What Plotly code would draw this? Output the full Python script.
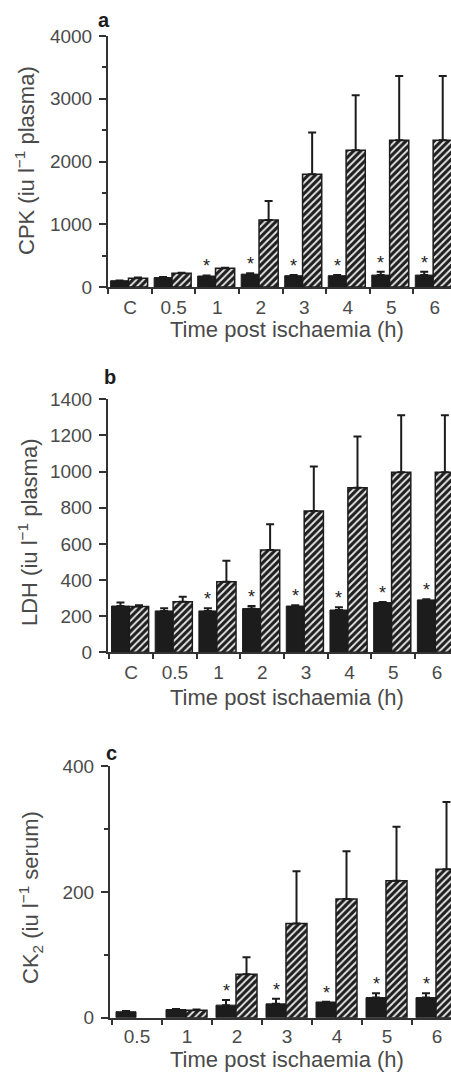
import plotly.graph_objects as go

# ---- data ----
cpk_cats = ["C", "0.5", "1", "2", "3", "4", "5", "6"]
cpk_ctrl = [100, 150, 175, 205, 180, 180, 190, 190]
cpk_ctrl_err = [5, 8, 10, 15, 10, 10, 55, 55]
cpk_isch = [140, 218, 297, 1066, 1798, 2180, 2340, 2340]
cpk_isch_err = [10, 10, 10, 303, 663, 876, 1023, 1023]
cpk_sig = [0, 0, 1, 1, 1, 1, 1, 1]

ldh_cats = ["C", "0.5", "1", "2", "3", "4", "5", "6"]
ldh_ctrl = [256, 229, 229, 242, 256, 234, 275, 290]
ldh_ctrl_err = [19, 15, 15, 14, 4, 15, 4, 3]
ldh_isch = [253, 280, 391, 566, 782, 911, 996, 996]
ldh_isch_err = [7, 28, 116, 142, 246, 283, 316, 316]
ldh_sig = [0, 0, 1, 1, 1, 1, 1, 1]

ck2_cats = ["0.5", "1", "2", "3", "4", "5", "6"]
ck2_ctrl = [9.5, 13, 20, 22, 25, 32, 32]
ck2_ctrl_err = [1, 1, 8, 8, 0.5, 7, 7]
ck2_isch = [None, 12, 69, 150, 189, 218, 236]
ck2_isch_err = [0, 1, 27, 83, 76, 86, 107]
ck2_sig = [0, 0, 1, 1, 1, 1, 1]

FONT = "Liberation Sans, Arial, Helvetica, sans-serif"
TXT = "#4a4a4a"
INK = "#1c1c1c"
W, H = 451, 1072

fig = go.Figure()

panels = [
    dict(cats=cpk_cats, ctrl=cpk_ctrl, cerr=cpk_ctrl_err, isch=cpk_isch, ierr=cpk_isch_err, sig=cpk_sig,
         xa="x", ya="y", xdom=[108 / W, 1], ydom=[1 - 287 / H, 1 - 36 / H], xr=[-0.51, 7.37],
         yr=[0, 4000], dtick=1000, minor=500, bo=(-0.45, 0.41), ho=(-0.04, 0.44),
         letter="a", lxy=(104, 20), ytitle="CPK (iu l<sup>−1</sup> plasma)", ytxy=(25, 161),
         xtxy=(287, 330), xstand=2),
    dict(cats=ldh_cats, ctrl=ldh_ctrl, cerr=ldh_ctrl_err, isch=ldh_isch, ierr=ldh_isch_err, sig=ldh_sig,
         xa="x2", ya="y2", xdom=[108 / W, 1], ydom=[1 - 652.3 / H, 1 - 399.3 / H], xr=[-0.53, 7.32],
         yr=[0, 1400], dtick=200, minor=None, bo=(-0.45, 0.41), ho=(-0.04, 0.44),
         letter="b", lxy=(110, 377), ytitle="LDH (iu l<sup>−1</sup> plasma)", ytxy=(28, 532),
         xtxy=(287, 697), xstand=2),
    dict(cats=ck2_cats, ctrl=ck2_ctrl, cerr=ck2_ctrl_err, isch=ck2_isch, ierr=ck2_isch_err, sig=ck2_sig,
         xa="x3", ya="y3", xdom=[110 / W, 1], ydom=[1 - 1017.7 / H, 1 - 766.3 / H], xr=[-0.54, 6.28],
         yr=[0, 400], dtick=200, minor=100, bo=(-0.42, 0.40), ho=(-0.02, 0.42),
         letter="c", lxy=(111, 753), ytitle="CK<sub>2</sub> (iu l<sup>−1</sup> serum)", ytxy=(30, 898),
         xtxy=(287, 1059), xstand=0),
]

annotations = []
layout_axes = {}
for k, p in enumerate(panels):
    n = len(p["cats"])
    xs = list(range(n))
    fig.add_trace(go.Bar(
        x=xs, y=p["ctrl"], xaxis=p["xa"], yaxis=p["ya"],
        offset=p["bo"][0], width=p["bo"][1],
        marker=dict(color=INK, line=dict(color=INK, width=1)),
        error_y=dict(type="data", symmetric=False, array=p["cerr"], arrayminus=[0] * n,
                     color=INK, thickness=2, width=4),
        showlegend=False,
    ))
    fig.add_trace(go.Bar(
        x=xs, y=p["isch"], xaxis=p["xa"], yaxis=p["ya"],
        offset=p["ho"][0], width=p["ho"][1],
        marker=dict(color="white", line=dict(color=INK, width=1.5),
                    pattern=dict(shape="/", fgcolor="#1e1e1e", bgcolor="#e6e6e6", size=5, solidity=0.62)),
        error_y=dict(type="data", symmetric=False, array=p["ierr"], arrayminus=[0] * n,
                     color=INK, thickness=2, width=4),
        showlegend=False,
    ))
    bc = p["bo"][0] + p["bo"][1] / 2
    for i in range(n):
        if p["sig"][i]:
            annotations.append(dict(
                x=i + bc, y=p["ctrl"][i] + p["cerr"][i], xref=p["xa"], yref=p["ya"],
                text="*", showarrow=False, yanchor="bottom", yshift=-3,
                font=dict(family=FONT, size=18, color=INK)))
    # panel letter
    annotations.append(dict(x=p["lxy"][0] / W, y=1 - p["lxy"][1] / H, xref="paper", yref="paper",
                            text="<b>%s</b>" % p["letter"], showarrow=False,
                            xanchor="center", yanchor="middle",
                            font=dict(family=FONT, size=20, color=INK)))
    annotations.append(dict(x=p["ytxy"][0] / W, y=1 - p["ytxy"][1] / H, xref="paper", yref="paper",
                            text=p["ytitle"], showarrow=False, textangle=-90,
                            xanchor="center", yanchor="middle",
                            font=dict(family=FONT, size=22, color=TXT)))
    annotations.append(dict(x=p["xtxy"][0] / W, y=1 - p["xtxy"][1] / H, xref="paper", yref="paper",
                            text="Time post ischaemia (h)", showarrow=False,
                            xanchor="center", yanchor="middle",
                            font=dict(family=FONT, size=22, color=TXT)))

    sfx = "" if k == 0 else str(k + 1)
    xaxis = dict(domain=p["xdom"], range=p["xr"], anchor=p["ya"], tickmode="array",
                 tickvals=xs, ticktext=p["cats"], ticks="", showline=True, linecolor="#333",
                 linewidth=2, showgrid=False, zeroline=False, automargin=False, fixedrange=True,
                 tickfont=dict(family=FONT, size=19, color=TXT), ticklabelstandoff=p["xstand"],
                 minor=dict(tickmode="array", tickvals=[i - 0.5 for i in range(n + 1)],
                            ticks="outside", ticklen=5, tickwidth=2, tickcolor="#333", showgrid=False))
    yaxis = dict(domain=p["ydom"], range=p["yr"], anchor=p["xa"], dtick=p["dtick"], tick0=0,
                 ticks="outside", ticklen=7, tickwidth=2, tickcolor="#333", showline=True,
                 linecolor="#333", linewidth=2, showgrid=False, zeroline=False, automargin=False,
                 fixedrange=True, tickfont=dict(family=FONT, size=19, color=TXT), ticklabelstandoff=3)
    if p["minor"]:
        yaxis["minor"] = dict(dtick=p["minor"], tick0=0, ticks="outside", ticklen=4, tickwidth=2,
                              tickcolor="#333", showgrid=False)
    layout_axes["xaxis" + sfx] = xaxis
    layout_axes["yaxis" + sfx] = yaxis

fig.update_layout(
    width=W, height=H, margin=dict(l=0, r=0, t=0, b=0),
    template="none", paper_bgcolor="white", plot_bgcolor="white",
    barmode="overlay", annotations=annotations, showlegend=False,
    font=dict(family=FONT, color=TXT),
    **layout_axes,
)

fig.write_html("out.html", config={"displayModeBar": False},
               post_script="document.body.style.margin='0';document.body.style.overflow='hidden';")
